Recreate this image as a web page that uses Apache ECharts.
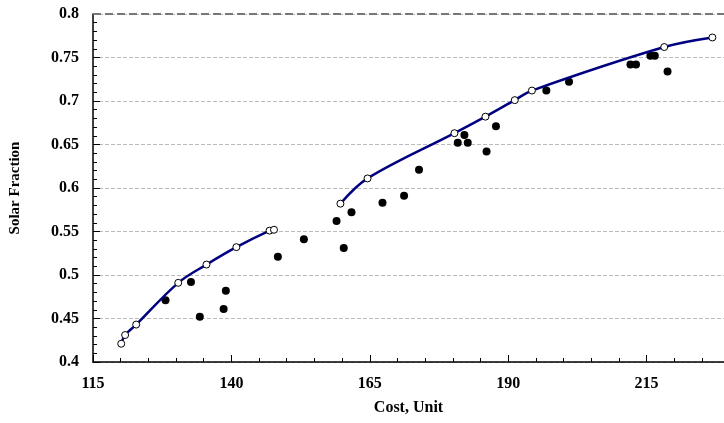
<!DOCTYPE html><html><head><meta charset="utf-8"><script src="https://cdn.jsdelivr.net/npm/echarts@6/dist/echarts.min.js"></script>
<style>body{margin:0}#c{width:724px;height:423px}</style></head><body><div id="c"></div><script>
const lineA = [[120.1,0.421],[120.8,0.431],[122.8,0.443],[130.4,0.491],[135.5,0.512],[140.9,0.532],[146.9,0.551],[147.7,0.552]];
const lineB = [[159.7,0.582],[164.6,0.611],[180.3,0.663],[185.9,0.682],[191.2,0.701],[194.3,0.712],[218.2,0.762],[226.9,0.773]];
const dots = [[128.1,0.471],[132.7,0.492],[134.3,0.452],[138.6,0.461],[139.0,0.482],[148.4,0.521],[153.1,0.541],
[159.0,0.562],[160.3,0.531],[161.7,0.572],[167.3,0.583],[171.2,0.591],[173.9,0.621],[180.9,0.652],[182.1,0.661],
[182.7,0.652],[186.1,0.642],[187.8,0.671],[196.9,0.712],[201.0,0.722],[212.1,0.742],[213.1,0.742],[215.7,0.752],[216.5,0.752],[218.8,0.734]];
const font = 'Liberation Serif';
const lineSeries = d => ({type:'line',data:d,smooth:0.35,symbol:'circle',symbolSize:7,
  lineStyle:{color:'#000080',width:2.5},itemStyle:{color:'#fff',borderColor:'#000',borderWidth:1},z:3});
const chart = echarts.init(document.getElementById('c'));
chart.setOption({
  animation:false,
  grid:{left:93,right:0,top:14,bottom:61},
  xAxis:{type:'value',min:115,max:229,interval:25,name:'Cost, Unit',nameLocation:'middle',nameGap:38,
    nameTextStyle:{fontFamily:font,fontWeight:'bold',fontSize:16,color:'#000'},
    axisLine:{lineStyle:{color:'#000',width:1.5}},axisTick:{inside:true,length:7,lineStyle:{color:'#000'}},
    minorTick:{show:true,splitNumber:5,length:4,lineStyle:{color:'#000'}},
    axisLabel:{showMaxLabel:false,fontFamily:font,fontWeight:'bold',fontSize:16,color:'#000',margin:14},splitLine:{show:false}},
  yAxis:{type:'value',min:0.4,max:0.8,interval:0.05,name:'Solar Fraction',nameLocation:'middle',nameGap:70,
    nameTextStyle:{fontFamily:font,fontWeight:'bold',fontSize:15,color:'#000'},
    axisLine:{show:true,lineStyle:{color:'#000',width:1.5}},axisTick:{show:true,inside:true,length:7,lineStyle:{color:'#000'}},
    minorTick:{show:true,splitNumber:5,length:4,lineStyle:{color:'#000'}},
    axisLabel:{fontFamily:font,fontWeight:'bold',fontSize:16,color:'#000',margin:14,formatter:v=>String(+v.toFixed(2))},
    splitLine:{show:true,lineStyle:{color:'#bbb',type:'dashed'}}},
  series:[lineSeries(lineA),lineSeries(lineB),
    {type:'scatter',data:dots,symbol:'circle',symbolSize:8,itemStyle:{color:'#000',opacity:1},z:2},
    {type:'line',data:[[115,0.8],[229,0.8]],symbol:'none',lineStyle:{color:'#777',width:2,type:'dashed'},silent:true}]
});
</script></body></html>
